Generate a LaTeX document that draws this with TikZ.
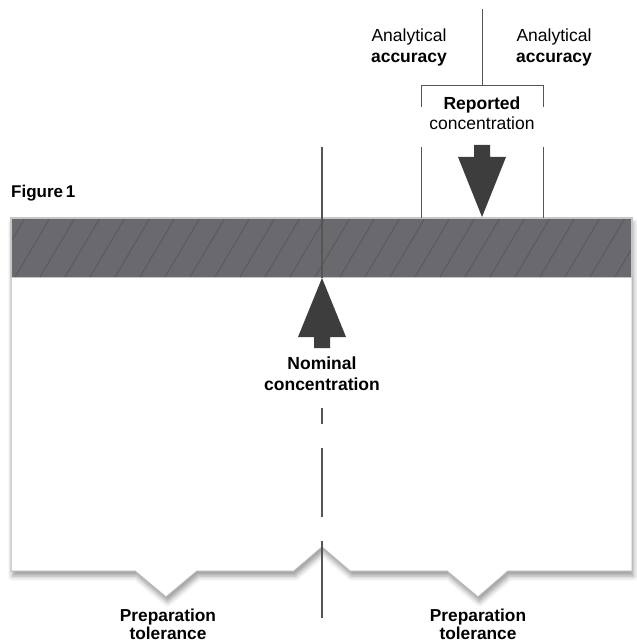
\documentclass[tikz,border=0pt]{standalone}
\usepackage{fontspec}
\setmainfont{Liberation Sans}
\usetikzlibrary{shadows.blur}
\definecolor{bandgrey}{HTML}{6A6A6E}
\definecolor{hatchgrey}{HTML}{58585C}
\definecolor{edgegrey}{HTML}{B8B8B8}
\definecolor{arrowgrey}{HTML}{3D3D3D}
\definecolor{linegrey}{HTML}{555555}
\begin{document}
\begin{tikzpicture}[x=1pt,y=-1pt,
  lbl/.style={align=center,inner sep=0pt,font=\fontsize{17.5}{21}\selectfont},
  bigarrow/.style={fill=arrowgrey,draw=none},
  guide/.style={draw=linegrey,line width=1.1pt},
  bracketline/.style={draw=linegrey,line width=1pt}]
\useasboundingbox (0,0) rectangle (636,644);

% title
\node[anchor=base west,inner sep=0pt,font=\fontsize{17}{20}\selectfont\bfseries] (fig) at (11,197) {Figure\,1};

% white box with notched bottom and shadow
\path[fill=white,draw=edgegrey,line width=1pt,
  blur shadow={shadow xshift=1.5pt,shadow yshift=-5pt,shadow blur radius=5pt,shadow opacity=40}]
  (11,218) -- (11,571) -- (135,571) -- (166,597) -- (197,571) -- (294,571)
  -- (322,547) -- (350,571) -- (447,571) -- (478,597) -- (508,571)
  -- (632,571) -- (632,218) -- cycle;

% hatched band
\fill[bandgrey] (11,218) rectangle (632,277);
\begin{scope}
  \clip (11,218) rectangle (632,277);
  \foreach \k in {-2,...,25} {
    \draw[hatchgrey,line width=0.8pt] ({15+25*\k},277) -- ({50+25*\k},218);
  }
\end{scope}
\draw[edgegrey!80,line width=1.6pt] (11,277) -- (11,218) -- (632,218) -- (632,277);
\draw[edgegrey!80,line width=1pt] (11,277) -- (632,277);

% centre (nominal) line
\coordinate (cTop) at (322,147);
\coordinate (cBand) at (322,278);
\draw[guide] (cTop) -- (cBand);
\coordinate (d1a) at (322,408); \coordinate (d1b) at (322,424);
\coordinate (d2a) at (322,448); \coordinate (d2b) at (322,517);
\coordinate (d3a) at (322,541); \coordinate (d3b) at (322,618);
\draw[guide] (d1a) -- (d1b);
\draw[guide] (d2a) -- (d2b);
\draw[guide] (d3a) -- (d3b);

% nominal arrow
\path[bigarrow] (322,278) -- (346,337) -- (330,337) -- (330,348) -- (314,348)
  -- (314,337) -- (298,337) -- cycle;
\node[lbl,font=\fontsize{17.5}{21}\selectfont\bfseries,anchor=base] (nominal) at (322,390)
  {Nominal\\concentration};

% reported bracket
\coordinate (rTop) at (482,9);
\coordinate (rMid) at (482,86);
\coordinate (bl1) at (421,86); \coordinate (bl2) at (421,107);
\coordinate (bl3) at (421,147); \coordinate (bl4) at (421,218);
\coordinate (br1) at (543,86); \coordinate (br2) at (543,107);
\coordinate (br3) at (543,147); \coordinate (br4) at (543,218);
\draw[bracketline] (rTop) -- (rMid);
\draw[bracketline] (bl2) -- (bl1) -- (br1) -- (br2);
\draw[bracketline] (bl3) -- (bl4);
\draw[bracketline] (br3) -- (br4);

\node[lbl,anchor=base] (accL) at (409,63) {Analytical\\\textbf{accuracy}};
\node[lbl,anchor=base] (accR) at (554,63) {Analytical\\\textbf{accuracy}};
\node[lbl,font=\fontsize{17.5}{20}\selectfont,anchor=base] (reported) at (482,130) {\textbf{Reported}\\concentration};

% reported arrow
\path[bigarrow] (482,217) -- (506,157) -- (490,157) -- (490,145) -- (474,145)
  -- (474,157) -- (458,157) -- cycle;

% preparation tolerance labels
\node[lbl,font=\fontsize{17.3}{18}\selectfont\bfseries,anchor=base] (prepL) at (168,639)
  {Preparation\\tolerance};
\node[lbl,font=\fontsize{17.3}{18}\selectfont\bfseries,anchor=base] (prepR) at (478,639)
  {Preparation\\tolerance};
\end{tikzpicture}
\end{document}
